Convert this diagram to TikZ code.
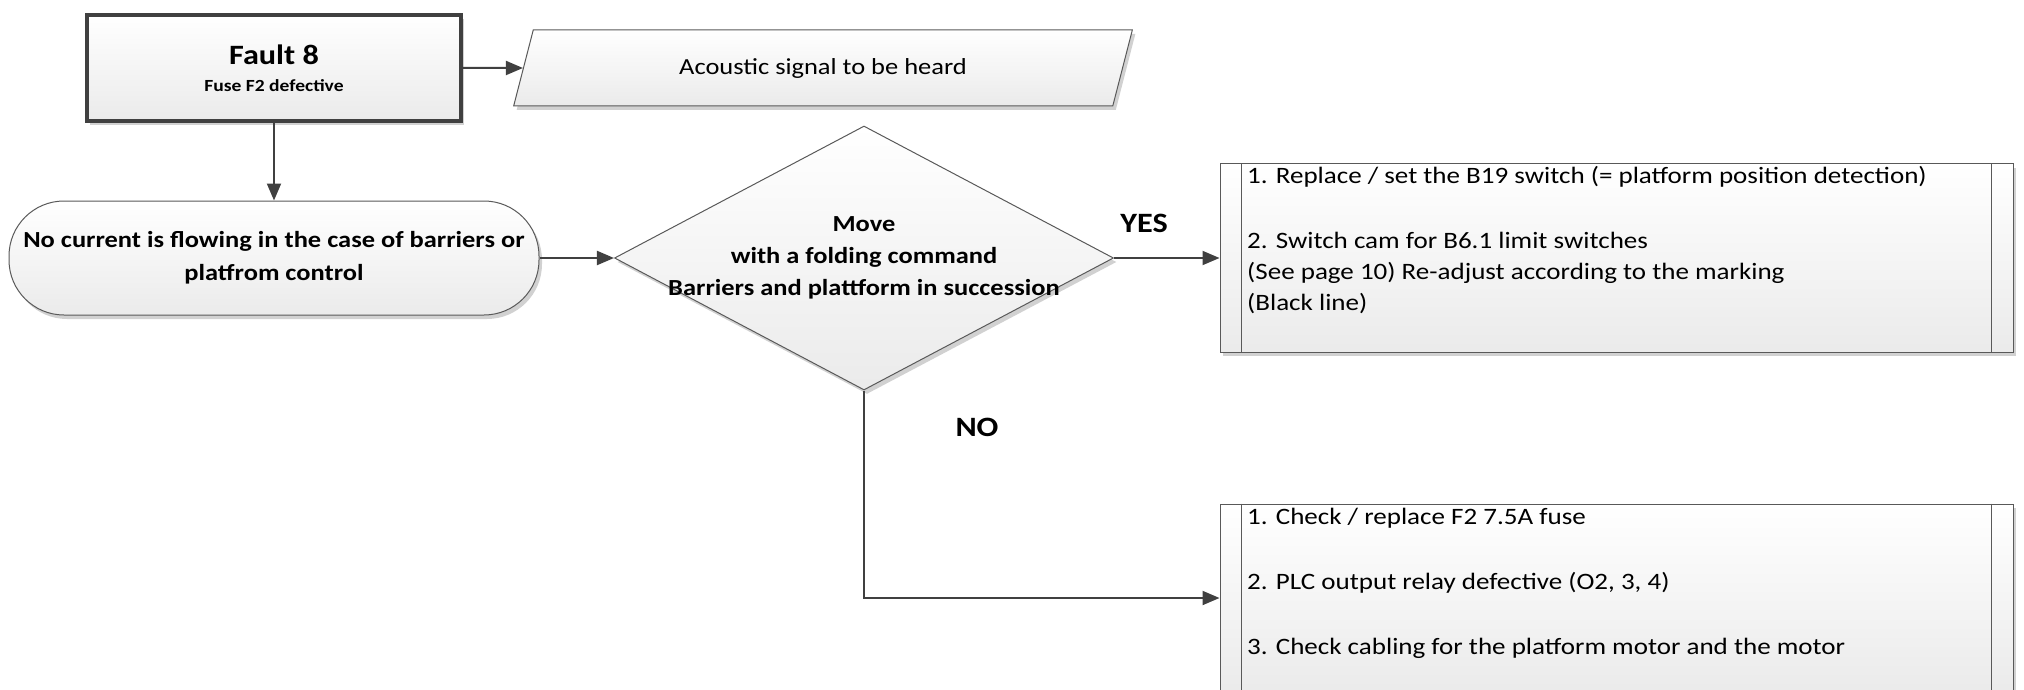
\documentclass[tikz,border=0pt]{standalone}
\usepackage{fontspec}
\setmainfont{Carlito}[FakeStretch=1.15]
\usepackage{tikz}
\usetikzlibrary{arrows.meta, shapes.geometric, shadows}

\begin{document}
\begin{tikzpicture}[x=1pt, y=-1pt,
        chartbox/.style={draw=black!65, line width=1pt, top color=white, bottom color=black!8,
            drop shadow={shadow xshift=3pt, shadow yshift=-4pt, fill=black!18, opacity=1}},
        flowarrow/.style={draw=black!75, line width=2pt, -{Triangle[length=17pt, width=14pt]}},
        txt/.style={font=\fontsize{23}{28}\selectfont, inner sep=0pt},
        steps/.style={font=\fontsize{23.5}{31}\selectfont, inner sep=0pt, anchor=north west, align=left},
        answer/.style={font=\fontsize{28}{30}\selectfont\bfseries, inner sep=0pt}]
            \clip (0,0) rectangle (2024,690);

            \node[chartbox, rectangle, line width=4pt, draw=black!75, minimum width=374pt, minimum height=106pt, align=center] at (274,68) (fault)
                {{\fontsize{28}{30}\selectfont\bfseries Fault 8}\\[14pt]{\fontsize{17}{20}\selectfont\bfseries Fuse F2 defective}};
            \node[chartbox, trapezium, trapezium left angle=64, trapezium right angle=116, trapezium stretches=true,
                minimum width=620pt, minimum height=76pt, txt] at (823,68) (signal) {Acoustic signal to be heard};
            \node[chartbox, rectangle, rounded corners=55pt, minimum width=530pt, minimum height=114pt, txt,
                font=\fontsize{23}{33}\selectfont\bfseries, align=center] at (274,258) (nocurrent)
                {No current is flowing in the case of barriers or\\platfrom control};
            \node[chartbox, diamond, minimum width=499pt, minimum height=264pt, inner sep=0pt] at (864,258) (move) {};
            \node[txt, font=\fontsize{23}{32}\selectfont\bfseries, align=center] at (move.center) (movetext)
                {Move\\with a folding command\\Barriers and plattform in succession};

            \node[chartbox, rectangle, minimum width=793pt, minimum height=188pt] at (1616.5,258) (adjust) {};
            \node[chartbox, rectangle, minimum width=793pt, minimum height=188pt] at (1616.5,598) (check) {};
            \draw [draw=black!65, line width=1pt] ([xshift=22pt]adjust.north west) -- ([xshift=22pt]adjust.south west);
            \draw [draw=black!65, line width=1pt] ([xshift=-22pt]adjust.north east) -- ([xshift=-22pt]adjust.south east);
            \draw [draw=black!65, line width=1pt] ([xshift=22pt]check.north west) -- ([xshift=22pt]check.south west);
            \draw [draw=black!65, line width=1pt] ([xshift=-22pt]check.north east) -- ([xshift=-22pt]check.south east);

            \node[steps] at (1247,166) (adjusttext)
                {1. Replace / set the B19 switch (= platform position detection)\\[34pt]2. Switch cam for B6.1 limit switches\\(See page 10) Re-adjust according to the marking\\(Black line)};
            \node[steps] at (1247,508) (checktext)
                {1. Check / replace F2 7.5A fuse\\[34pt]2. PLC output relay defective (O2, 3, 4)\\[34pt]3. Check cabling for the platform motor and the motor};

            \node[answer] at (1144,223) (yes) {YES};
            \node[answer] at (977,427) (no) {NO};

            \draw [flowarrow] (fault) -- (signal);\draw [flowarrow] (fault) -- (nocurrent);
            \draw [flowarrow] (nocurrent) -- (move);\draw [flowarrow] (move) -- (adjust);
            \draw [flowarrow] (move) |- (check);
        \end{tikzpicture}
\end{document}
